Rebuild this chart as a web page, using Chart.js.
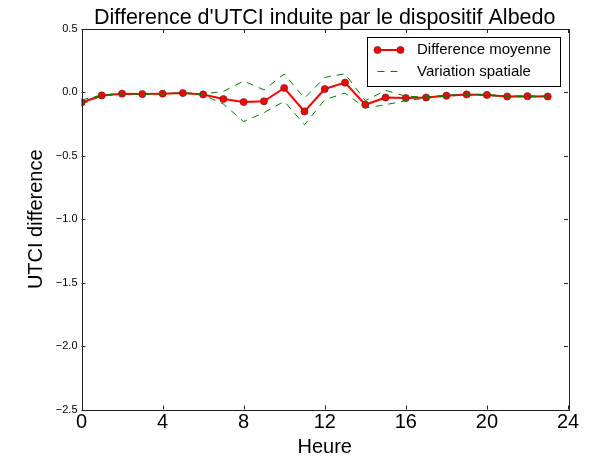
<!DOCTYPE html>
<html>
<head>
<meta charset="utf-8">
<script src="https://cdn.jsdelivr.net/npm/chart.js@4/dist/chart.umd.min.js"></script>
<style>
    html, body { margin: 0; padding: 0; background: #fff; }
    #wrap { width: 592px; height: 459px; }
</style>
</head>
<body>
<div id="wrap"><canvas id="utci"></canvas></div>
<script>
const hours = [0, 1, 2, 3, 4, 5, 6, 7, 8, 9, 10, 11, 12, 13, 14, 15, 16, 17, 18, 19, 20, 21, 22, 23];
const meanDiff = [-0.079, -0.024, -0.010, -0.013, -0.010, -0.005, -0.016, -0.052, -0.076, -0.070, 0.035, -0.150,
    0.027, 0.077, -0.097, -0.040, -0.044, -0.040, -0.026, -0.016, -0.020, -0.032, -0.030, -0.032];
const upperVar = [-0.060, -0.020, -0.008, -0.010, -0.008, -0.003, -0.012, 0.008, 0.090, 0.020, 0.145, -0.045,
    0.118, 0.147, -0.065, 0.016, -0.030, -0.036, -0.022, -0.013, -0.017, -0.028, -0.027, -0.029];
const lowerVar = [-0.095, -0.028, -0.012, -0.016, -0.012, -0.007, -0.020, -0.092, -0.230, -0.160, -0.070, -0.255,
    -0.058, -0.005, -0.123, -0.097, -0.065, -0.045, -0.030, -0.019, -0.023, -0.036, -0.033, -0.035];
const xTicks = [0, 4, 8, 12, 16, 20, 24];
const yTicks = [-2.5, -2.0, -1.5, -1.0, -0.5, 0.0, 0.5];

const titleText = "Difference d'UTCI induite par le dispositif Albedo";
const legendLabels = ['Difference moyenne', 'Variation spatiale'];
const FONT = "'Liberation Sans', Arial, sans-serif";
const RED = '#ff0000';
const GREEN = '#008000';
const chartCanvas = document.getElementById('utci');

function fmtY(v) {
    const s = Math.abs(v).toFixed(1);
    return v < 0 ? '\u2212' + s : s;
}

// title, top/right frame, inward ticks and legend box, matplotlib style
const framePlugin = {
    id: 'frame',
    afterDraw(chart) {
        const ctx = chart.ctx;
        const a = chart.chartArea;
        const xs = chart.scales.x;
        const ys = chart.scales.y;
        ctx.save();

        ctx.strokeStyle = '#222';
        ctx.lineWidth = 1;
        ctx.strokeRect(Math.round(a.left) + 0.5, Math.round(a.top) + 0.5,
            Math.round(a.right - a.left), Math.round(a.bottom - a.top));

        ctx.beginPath();
        xTicks.forEach(t => {
            const px = Math.round(xs.getPixelForValue(t)) + 0.5;
            ctx.moveTo(px, a.bottom); ctx.lineTo(px, a.bottom - 4);
            ctx.moveTo(px, a.top); ctx.lineTo(px, a.top + 4);
        });
        yTicks.forEach(t => {
            const py = Math.round(ys.getPixelForValue(t)) + 0.5;
            ctx.moveTo(a.left, py); ctx.lineTo(a.left + 4, py);
            ctx.moveTo(a.right, py); ctx.lineTo(a.right - 4, py);
        });
        ctx.stroke();

        // title
        ctx.fillStyle = '#000';
        ctx.font = '21.5px ' + FONT;
        ctx.textAlign = 'center';
        ctx.textBaseline = 'alphabetic';
        ctx.fillText(titleText, (a.left + a.right) / 2, 24);

        // legend
        const bx = Math.round(a.right) - 200.5;
        const by = Math.round(a.top) + 8.5;
        ctx.fillStyle = '#fff';
        ctx.fillRect(bx, by, 193, 49);
        ctx.strokeStyle = '#000';
        ctx.strokeRect(bx, by, 193, 49);

        const r1 = by + 12.5, r2 = by + 34;
        const l0 = bx + 10, l1 = bx + 33;
        ctx.strokeStyle = RED;
        ctx.lineWidth = 2;
        ctx.beginPath(); ctx.moveTo(l0, r1); ctx.lineTo(l1, r1); ctx.stroke();
        [l0, l1].forEach(px => {
            ctx.beginPath();
            ctx.arc(px, r1, 3.6, 0, Math.PI * 2);
            ctx.fillStyle = RED; ctx.fill();
            ctx.lineWidth = 0.6; ctx.strokeStyle = '#333'; ctx.stroke();
        });
        ctx.strokeStyle = GREEN;
        ctx.lineWidth = 1;
        ctx.setLineDash([7, 6]);
        ctx.beginPath(); ctx.moveTo(l0, r2); ctx.lineTo(l1 + 1, r2); ctx.stroke();
        ctx.setLineDash([]);

        ctx.fillStyle = '#000';
        ctx.font = '15px ' + FONT;
        ctx.textAlign = 'left';
        ctx.textBaseline = 'middle';
        ctx.fillText(legendLabels[0], bx + 49.5, r1);
        ctx.fillText(legendLabels[1], bx + 49.5, r2);
        ctx.restore();
    }
};

new Chart(chartCanvas, {
    type: 'line',
    data: {
        labels: hours,
        datasets: [
            {
                label: legendLabels[0],
                data: hours.map((h, i) => ({ x: h, y: meanDiff[i] })),
                borderColor: RED,
                backgroundColor: RED,
                borderWidth: 2,
                pointRadius: 3.6,
                pointBorderWidth: 0.6,
                pointBorderColor: '#333',
                pointBackgroundColor: RED,
                order: 2
            },
            {
                label: legendLabels[1],
                data: hours.map((h, i) => ({ x: h, y: upperVar[i] })),
                borderColor: GREEN,
                borderWidth: 1,
                borderDash: [7, 6],
                pointRadius: 0,
                order: 1
            },
            {
                label: legendLabels[1] + ' (bas)',
                data: hours.map((h, i) => ({ x: h, y: lowerVar[i] })),
                borderColor: GREEN,
                borderWidth: 1,
                borderDash: [7, 6],
                pointRadius: 0,
                order: 1
            }
        ]
    },
    options: {
        responsive: true,
        maintainAspectRatio: false,
        animation: false,
        layout: { padding: { top: 29, right: 24, bottom: 0, left: 0 } },
        plugins: {
            legend: { display: false },
            title: { display: false },
            tooltip: { enabled: false }
        },
        scales: {
            x: {
                type: 'linear',
                min: 0,
                max: 24,
                afterBuildTicks: scale => { scale.ticks = xTicks.map(v => ({ value: v })); },
                afterFit: scale => { scale.height = 49.5; },
                grid: { display: false, drawTicks: false },
                border: { display: false },
                ticks: {
                    color: '#000',
                    padding: 1,
                    maxRotation: 0,
                    font: { family: FONT, size: 20 },
                    callback: v => String(v)
                },
                title: {
                    display: true,
                    text: 'Heure',
                    color: '#000',
                    padding: { top: 0, bottom: 0 },
                    font: { family: FONT, size: 20 }
                }
            },
            y: {
                min: -2.5,
                max: 0.5,
                afterBuildTicks: scale => { scale.ticks = yTicks.map(v => ({ value: v })); },
                afterFit: scale => { scale.width = 81.5; },
                grid: { display: false, drawTicks: false },
                border: { display: false },
                ticks: {
                    color: '#000',
                    padding: 4,
                    font: { family: FONT, size: 11 },
                    callback: v => fmtY(v)
                },
                title: {
                    display: true,
                    text: 'UTCI difference',
                    color: '#000',
                    padding: { top: 24, bottom: 0 },
                    font: { family: FONT, size: 20 }
                }
            }
        }
    },
    plugins: [framePlugin]
});
</script>
</body>
</html>
